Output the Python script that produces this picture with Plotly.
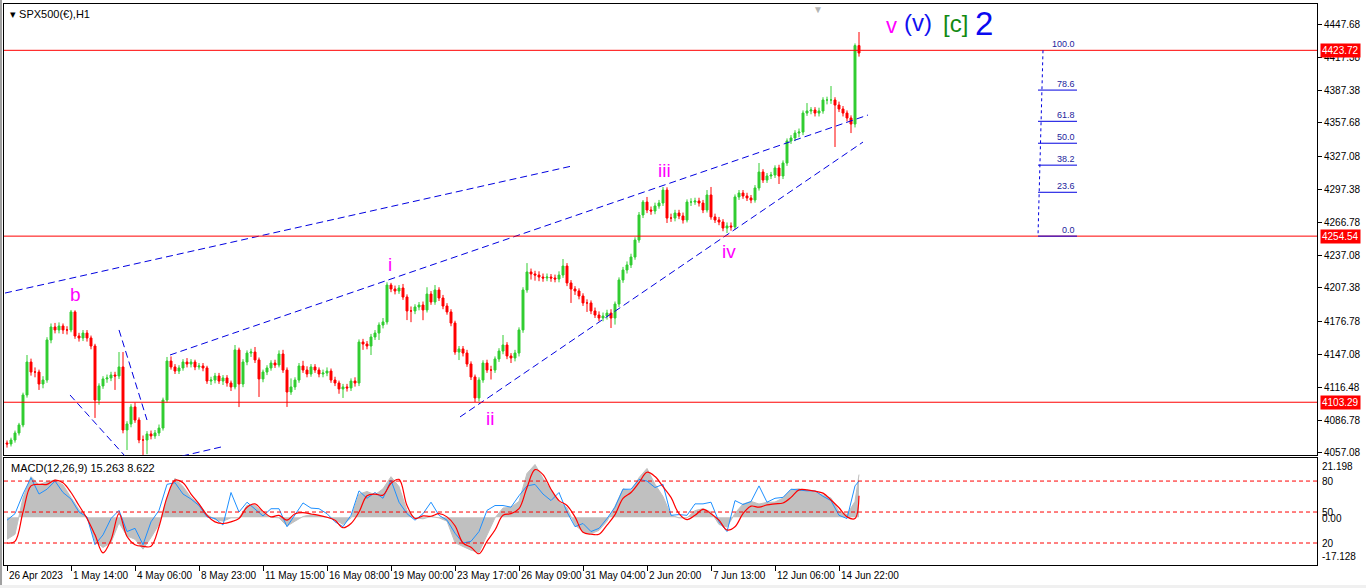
import plotly.graph_objects as go

# ---------------- price data (H1 chart, sampled as 4-bar candles) ----------------
first_open = 4066.2
closes = [
    4065.3, 4068.9, 4075.3, 4082.6, 4109.9, 4139.9, 4130.8, 4130.8, 4119.9, 4123.5,
    4160.0, 4171.8, 4169.1, 4172.7, 4169.1, 4169.1, 4185.5, 4163.6, 4161.8, 4166.3,
    4161.8, 4154.5, 4105.3, 4118.1, 4124.5, 4125.4, 4128.1, 4127.2, 4135.4, 4078.0,
    4083.5, 4099.0, 4087.1, 4068.9, 4068.9, 4074.4, 4072.6, 4075.3, 4079.8, 4105.3,
    4140.8, 4135.4, 4131.7, 4134.5, 4139.9, 4138.1, 4139.9, 4135.4, 4136.3, 4134.5,
    4122.6, 4123.5, 4127.2, 4122.6, 4125.4, 4120.8, 4117.2, 4150.9, 4119.9, 4139.9,
    4148.1, 4149.0, 4141.8, 4124.5, 4130.8, 4134.5, 4139.0, 4137.2, 4147.2, 4132.6,
    4112.6, 4117.2, 4123.5, 4136.3, 4132.6, 4129.0, 4135.4, 4132.6, 4129.0, 4129.9,
    4131.7, 4123.5, 4120.8, 4115.4, 4117.2, 4116.3, 4122.6, 4120.8, 4158.1, 4156.3,
    4154.5, 4162.7, 4166.3, 4173.6, 4176.4, 4210.0, 4206.4, 4204.6, 4207.3, 4199.1,
    4186.4, 4186.4, 4190.0, 4191.8, 4187.3, 4201.8, 4194.6, 4205.5, 4198.2, 4190.9,
    4185.5, 4175.4, 4149.0, 4151.8, 4148.1, 4138.1, 4126.3, 4107.2, 4123.5, 4139.0,
    4132.6, 4132.6, 4142.7, 4149.9, 4155.4, 4145.4, 4143.6, 4148.1, 4169.1, 4205.5,
    4221.9, 4220.1, 4219.1, 4217.3, 4216.4, 4217.3, 4216.4, 4215.5, 4219.1, 4227.3,
    4211.9, 4206.4, 4204.6, 4200.0, 4193.7, 4193.7, 4186.4, 4182.7, 4180.0, 4181.8,
    4184.5, 4180.0, 4192.7, 4214.6, 4223.7, 4228.3, 4235.5, 4251.0, 4273.8, 4285.6,
    4278.3, 4277.4, 4282.0, 4284.7, 4296.5, 4271.0, 4271.0, 4275.6, 4272.9, 4269.2,
    4285.6, 4285.6, 4286.5, 4284.7, 4278.3, 4292.0, 4272.0, 4269.2, 4267.4, 4261.9,
    4263.8, 4262.9, 4290.2, 4293.8, 4291.1, 4289.3, 4287.4, 4298.4, 4312.9, 4305.6,
    4309.3, 4310.2, 4316.6, 4309.3, 4321.1, 4341.2, 4343.9, 4348.4, 4349.3, 4366.6,
    4368.5, 4369.4, 4366.6, 4368.5, 4378.5, 4378.5, 4378.5, 4373.9, 4370.3, 4366.6,
    4362.1, 4356.6, 4428.0, 4421.3,
]
highs = [
    4068.5, 4071.0, 4077.5, 4084.5, 4112.0, 4146.3, 4143.0, 4135.0, 4133.0, 4127.0,
    4162.5, 4175.0, 4175.5, 4176.0, 4175.0, 4172.5, 4187.3, 4187.0, 4166.5, 4169.0,
    4169.0, 4164.0, 4156.5, 4120.5, 4127.0, 4128.5, 4131.0, 4131.0, 4149.0, 4149.0,
    4086.0, 4101.5, 4103.0, 4089.5, 4073.0, 4077.0, 4077.5, 4078.0, 4083.0, 4107.5,
    4144.5, 4145.0, 4138.0, 4137.0, 4142.5, 4143.5, 4142.5, 4142.0, 4139.0, 4139.0,
    4136.5, 4126.5, 4130.0, 4130.0, 4128.0, 4128.0, 4123.0, 4155.4, 4153.0, 4142.5,
    4150.5, 4152.0, 4153.6, 4144.0, 4133.0, 4137.0, 4141.5, 4142.0, 4150.5, 4151.0,
    4135.0, 4125.0, 4126.0, 4139.0, 4141.0, 4136.0, 4138.0, 4138.0, 4135.0, 4133.0,
    4135.0, 4134.0, 4126.5, 4123.0, 4120.0, 4120.0, 4125.0, 4126.0, 4160.5, 4161.0,
    4159.0, 4165.5, 4169.0, 4176.0, 4180.0, 4212.5, 4212.0, 4209.5, 4210.0, 4211.0,
    4201.5, 4190.5, 4192.5, 4194.5, 4195.0, 4208.0, 4204.5, 4210.0, 4208.0, 4201.0,
    4193.5, 4188.0, 4177.5, 4154.5, 4154.5, 4151.0, 4140.5, 4128.5, 4126.0, 4141.5,
    4142.0, 4136.5, 4145.0, 4152.5, 4164.5, 4158.0, 4148.0, 4151.0, 4171.5, 4208.0,
    4230.0, 4225.0, 4223.0, 4222.5, 4220.5, 4220.5, 4220.0, 4219.5, 4222.5, 4233.7,
    4230.0, 4214.5, 4209.0, 4207.0, 4202.5, 4197.0, 4196.0, 4189.5, 4186.0, 4185.0,
    4187.5, 4188.0, 4195.0, 4217.0, 4226.5, 4231.5, 4238.5, 4253.5, 4276.5, 4287.4,
    4290.2, 4281.5, 4285.0, 4287.5, 4299.3, 4299.0, 4275.0, 4278.5, 4278.5, 4276.0,
    4288.0, 4289.0, 4289.5, 4289.5, 4287.5, 4296.5, 4299.3, 4275.0, 4272.0, 4270.0,
    4267.0, 4267.0, 4292.5, 4296.5, 4296.5, 4294.0, 4292.0, 4301.0, 4321.1, 4315.5,
    4312.0, 4313.0, 4319.0, 4319.5, 4323.5, 4343.5, 4346.5, 4351.0, 4352.5, 4369.0,
    4375.7, 4372.0, 4372.0, 4371.5, 4381.0, 4381.5, 4391.2, 4381.0, 4377.0, 4373.0,
    4369.0, 4364.5, 4430.0, 4440.4,
]
lows = [
    4062.0, 4063.0, 4066.5, 4073.0, 4080.5, 4107.5, 4127.5, 4126.0, 4114.5, 4116.0,
    4121.0, 4157.0, 4166.0, 4166.0, 4165.5, 4165.0, 4167.0, 4161.0, 4158.5, 4159.0,
    4158.5, 4151.5, 4089.0, 4101.0, 4115.5, 4121.0, 4122.5, 4114.5, 4124.5, 4075.0,
    4059.8, 4080.5, 4084.5, 4066.0, 4055.3, 4056.0, 4069.5, 4070.0, 4072.5, 4077.5,
    4103.0, 4133.0, 4129.0, 4129.0, 4132.0, 4135.0, 4135.0, 4132.5, 4133.0, 4131.5,
    4120.0, 4119.0, 4120.5, 4120.0, 4119.0, 4117.5, 4113.5, 4115.0, 4098.9, 4117.0,
    4137.0, 4144.5, 4139.0, 4108.1, 4121.5, 4128.0, 4132.0, 4134.5, 4135.0, 4130.0,
    4099.0, 4110.0, 4114.5, 4121.0, 4130.0, 4126.0, 4126.5, 4130.0, 4126.0, 4126.0,
    4127.0, 4121.0, 4118.0, 4111.0, 4107.2, 4113.0, 4113.5, 4117.5, 4118.0, 4151.0,
    4151.5, 4146.3, 4160.0, 4160.0, 4170.5, 4174.0, 4203.5, 4201.5, 4202.0, 4196.5,
    4178.1, 4176.2, 4183.5, 4187.0, 4178.0, 4185.0, 4192.0, 4192.0, 4195.5, 4188.0,
    4183.0, 4172.5, 4146.5, 4141.7, 4145.0, 4135.5, 4123.5, 4103.5, 4104.0, 4121.0,
    4130.0, 4124.0, 4130.0, 4140.0, 4147.0, 4142.5, 4139.0, 4140.5, 4145.0, 4166.5,
    4203.0, 4215.0, 4214.0, 4213.5, 4213.0, 4213.5, 4213.0, 4212.5, 4212.5, 4216.5,
    4209.0, 4193.7, 4201.0, 4197.0, 4191.0, 4185.5, 4183.5, 4180.0, 4177.0, 4177.0,
    4178.5, 4170.9, 4174.0, 4190.0, 4212.0, 4220.5, 4225.5, 4233.0, 4248.5, 4271.0,
    4275.5, 4274.0, 4274.5, 4279.5, 4282.0, 4266.5, 4267.5, 4268.0, 4270.0, 4266.0,
    4267.0, 4282.0, 4283.0, 4281.5, 4275.5, 4276.0, 4269.5, 4266.5, 4264.5, 4259.0,
    4257.4, 4259.5, 4260.5, 4287.5, 4288.5, 4286.5, 4284.5, 4285.0, 4296.0, 4303.0,
    4303.0, 4306.5, 4307.5, 4302.0, 4306.5, 4318.5, 4338.5, 4341.0, 4344.5, 4346.5,
    4364.0, 4365.5, 4363.5, 4363.5, 4366.0, 4374.5, 4375.0, 4335.7, 4367.5, 4363.5,
    4359.0, 4348.4, 4353.5, 4418.0,
]
opens = [first_open] + closes[:-1]
bars = list(range(len(closes)))

# ---------------- MACD panel data (every 2nd bar + last) ----------------
macd_x = list(range(0, 213, 2)) + [213]
macd_main = [
    -7.91, -6.14, 6.84, 14.51, 11.56, 12.74, 13.33, 11.56, 7.08, 2.71,
    0.0, -8.50, -10.86, -9.09, -2.01, -6.73, -7.91, -11.45, -7.32, -2.60,
    6.84, 13.92, 10.97, 7.08, 4.72, 0.94, -0.83, -1.42, -0.24, -0.24,
    4.25, 4.25, 1.53, 0.0, -0.24, -3.19, -1.42, 0.24, 0.94, 0.47,
    0.0, -0.83, -2.60, -0.24, 8.26, 9.20, 8.02, 10.15, 14.51, 10.97,
    2.36, -0.24, -0.59, 0.24, -0.24, -1.42, -9.09, -10.50, -11.80, -12.63,
    -6.73, -0.24, 3.30, 3.54, 5.66, 15.69, 18.88, 13.92, 9.79, 5.43,
    3.30, -2.83, -5.19, -5.90, -4.72, -1.42, 3.89, 10.15, 9.44, 14.16,
    17.46, 11.80, 7.43, 0.71, -0.24, -0.24, 2.36, 3.07, 1.89, -2.60,
    -3.54, 1.42, 4.72, 5.66, 4.72, 5.31, 5.43, 6.84, 9.91, 10.15,
    9.68, 8.97, 7.91, 6.84, 2.01, 0.94, 5.66, 15.26,
]
osc_blue = [
    42.1, 48.4, 67.4, 83.2, 67.4, 72.1, 80.0, 68.9, 62.6, 50.0,
    45.3, 18.4, 27.9, 43.7, 51.6, 31.1, 34.2, 18.4, 40.5, 51.6,
    76.8, 78.4, 67.4, 62.6, 56.3, 45.3, 43.7, 37.4, 68.9, 50.0,
    59.5, 53.2, 46.2, 53.2, 53.2, 35.8, 46.8, 58.8, 53.8, 53.2,
    48.4, 40.5, 35.8, 46.8, 70.5, 63.3, 68.9, 63.3, 80.9, 59.5,
    48.4, 42.1, 48.4, 59.5, 46.8, 42.1, 29.5, 20.0, 21.6, 31.1,
    51.6, 56.3, 56.3, 54.7, 65.8, 75.3, 76.8, 67.4, 61.1, 68.9,
    50.0, 35.8, 38.9, 31.1, 34.2, 43.7, 54.7, 72.1, 72.1, 81.6,
    80.0, 73.7, 76.8, 46.8, 47.5, 46.8, 57.9, 57.9, 59.5, 40.5,
    31.1, 61.1, 57.3, 60.1, 75.3, 59.5, 63.3, 64.2, 72.1, 71.2,
    70.5, 70.5, 65.2, 61.1, 46.8, 43.7, 75.3, 80.0,
]
osc_red = [
    20.0, 21.6, 50.0, 75.3, 76.8, 76.8, 80.9, 78.4, 68.9, 56.3,
    43.7, 27.9, 10.5, 23.2, 48.4, 26.3, 18.4, 16.8, 16.8, 35.8,
    64.2, 80.9, 78.4, 67.4, 57.9, 46.8, 40.5, 38.9, 40.5, 43.7,
    54.7, 57.9, 50.6, 45.3, 46.8, 42.1, 48.4, 49.4, 48.1, 46.8,
    44.9, 42.1, 34.8, 38.9, 50.0, 65.8, 67.4, 66.4, 77.8, 81.6,
    56.3, 43.7, 46.2, 45.9, 48.4, 45.3, 36.7, 20.0, 15.9, 9.6,
    21.6, 32.6, 46.8, 48.4, 53.2, 73.7, 91.1, 86.3, 72.1, 61.1,
    56.3, 45.3, 30.4, 28.5, 28.5, 37.4, 47.5, 63.3, 68.9, 78.4,
    88.5, 84.4, 74.6, 64.2, 48.4, 42.7, 46.8, 52.5, 48.4, 42.1,
    32.6, 35.8, 48.4, 55.7, 54.7, 56.9, 57.9, 58.8, 64.2, 71.5,
    71.5, 70.2, 68.3, 61.7, 54.1, 45.3, 43.7, 65.8,
]
osc_levels = [80, 50, 20]
macd_scale = [21.198, 0.0, -17.128]

# ---------------- axes / annotations data ----------------
price_ticks = [4447.68, 4417.38, 4387.38, 4357.68, 4327.08, 4297.38, 4266.78,
               4237.08, 4207.38, 4176.78, 4147.08, 4116.48, 4086.78, 4057.08]
time_ticks = [0, 16, 32, 48, 64, 80, 96, 112, 128, 144, 160, 176, 192, 208]
time_labels = ["26 Apr 2023", "1 May 14:00", "4 May 06:00", "8 May 23:00",
               "11 May 15:00", "16 May 08:00", "19 May 00:00", "23 May 17:00",
               "26 May 09:00", "31 May 04:00", "2 Jun 20:00", "7 Jun 13:00",
               "12 Jun 06:00", "14 Jun 22:00"]
h_levels = [4423.72, 4254.54, 4103.29]
fib_low, fib_high = 4254.54, 4423.72
fib_levels = [0.0, 23.6, 38.2, 50.0, 61.8, 78.6, 100.0]
fib_x = [257.75, 267.5]          # bar positions of the fib tool
fib_stem_x = [259.0, 257.75]
trend_lines = [
    (-0.5, 4202.7, 141.25, 4318.4),
    (40.75, 4146.3, 215.25, 4364.8),
    (113.25, 4089.9, 214.0, 4340.2),
    (15.75, 4109.9, 29.5, 4054.3),
    (28.0, 4169.1, 35.0, 4087.1),
    (43.75, 4054.3, 53.5, 4062.5),
]
wave_labels = [("b", 17.0, 4201.8), ("i", 95.75, 4228.3), ("ii", 120.75, 4088.9),
               ("iii", 164.25, 4314.7), ("iv", 180.5, 4241.0)]
top_labels = [("v", 221.0, 4445.9, "#FF00FF", 22),
              ("(v)", 227.75, 4449.5, "#1010F0", 24),
              ("[c]", 237.0, 4448.6, "#128A12", 24),
              ("2", 244.25, 4448.6, "#0A0AF0", 33)]

X_RANGE = [-0.75, 327.5]
Y_RANGE = [4054.8, 4465.9]
MACD_RANGE = [-17.128, 21.198]
OSC_RANGE = [-1.3, 102.3]
FONT = "Liberation Sans"

fig = go.Figure()

fig.add_trace(go.Candlestick(
    x=bars, open=opens, high=highs, low=lows, close=closes,
    increasing=dict(line=dict(color="#32CD32", width=1), fillcolor="#32CD32"),
    decreasing=dict(line=dict(color="#FF0000", width=1), fillcolor="#FF0000"),
    xaxis="x", yaxis="y", showlegend=False, hoverinfo="skip",
))

fig.add_trace(go.Scatter(
    x=macd_x, y=macd_main, mode="lines", fill="tozeroy", fillcolor="#C0C0C0",
    line=dict(color="#C0C0C0", width=1),
    xaxis="x2", yaxis="y2", showlegend=False, hoverinfo="skip",
))
fig.add_trace(go.Scatter(
    x=macd_x, y=osc_blue, mode="lines", line=dict(color="#1E90FF", width=1),
    xaxis="x2", yaxis="y3", showlegend=False, hoverinfo="skip",
))
fig.add_trace(go.Scatter(
    x=macd_x, y=osc_red, mode="lines", line=dict(color="#FF0000", width=1.2, shape="spline"),
    xaxis="x2", yaxis="y3", showlegend=False, hoverinfo="skip",
))

shapes = []
annotations = []

# window frame details
shapes.append(dict(type="rect", xref="paper", yref="paper", x0=-0.0031, x1=-0.0015,
                   y0=-0.041, y1=1.008, fillcolor="#A0A0A0", line=dict(width=0), layer="below"))
shapes.append(dict(type="rect", xref="paper", yref="paper", x0=-0.004, x1=1.04,
                   y0=-0.042, y1=-0.0357, fillcolor="#F0F0F0", line=dict(width=0), layer="below"))

# trend lines
for x0, y0, x1, y1 in trend_lines:
    shapes.append(dict(type="line", xref="x", yref="y", x0=x0, y0=y0, x1=x1, y1=y1,
                       line=dict(color="#0000E0", width=1, dash="7px,4px")))

# horizontal red levels + price boxes
for lv in h_levels:
    shapes.append(dict(type="line", xref="x domain", yref="y", x0=0, x1=1, y0=lv, y1=lv,
                       line=dict(color="#FF0000", width=1)))

# fibonacci tool
for lv in fib_levels:
    price = fib_low + (fib_high - fib_low) * lv / 100.0
    if lv < 100:
        shapes.append(dict(type="line", xref="x", yref="y", x0=fib_x[0], x1=fib_x[1],
                           y0=price, y1=price, line=dict(color="#0000E0", width=1)))
    annotations.append(dict(xref="x", yref="y", x=fib_x[1], y=price, text=f"{lv:.1f}",
                            xanchor="right", yanchor="bottom", showarrow=False, yshift=-1,
                            font=dict(family=FONT, size=9, color="#23239C")))
shapes.append(dict(type="line", xref="x", yref="y", x0=fib_stem_x[0], y0=fib_high,
                   x1=fib_stem_x[1], y1=fib_low,
                   line=dict(color="#0000E0", width=1, dash="3px,3px")))

for lv in h_levels:
    annotations.append(dict(xref="paper", yref="y", x=1, y=lv, text=f"{lv:.2f}",
                            xanchor="left", yanchor="middle", xshift=3, showarrow=False,
                            bgcolor="#FF0000", borderpad=1,
                            font=dict(family=FONT, size=10, color="white")))

# MACD panel dashed levels
for lv in osc_levels:
    shapes.append(dict(type="line", xref="x2 domain", yref="y3", x0=0, x1=1, y0=lv, y1=lv,
                       line=dict(color="#FF0000", width=1, dash="4px,3px")))
    annotations.append(dict(xref="paper", yref="y3", x=1, y=lv, text=str(lv),
                            xanchor="left", yanchor="middle", xshift=3, showarrow=False,
                            font=dict(family=FONT, size=10, color="black")))
for v, anch in zip(macd_scale, ["top", "middle", "bottom"]):
    annotations.append(dict(xref="paper", yref="y2", x=1, y=v,
                            text=(f"{v:.3f}" if v != 0 else "0.00"),
                            xanchor="left", yanchor=anch, xshift=3, showarrow=False,
                            yshift=(-1 if anch == "top" else (1 if anch == "bottom" else -1)),
                            font=dict(family=FONT, size=10, color="black")))

# wave labels
for txt, xx, yy in wave_labels:
    annotations.append(dict(xref="x", yref="y", x=xx, y=yy, text=txt, showarrow=False,
                            font=dict(family=FONT, size=19, color="#FF00FF")))
for txt, xx, yy, col, sz in top_labels:
    annotations.append(dict(xref="x", yref="y", x=xx, y=yy, text=txt, showarrow=False,
                            font=dict(family=FONT, size=sz, color=col)))

# time labels
for t, lab in zip(time_ticks, time_labels):
    annotations.append(dict(xref="x2", yref="paper", x=t, y=0, text=lab, showarrow=False,
                            xanchor="left", yanchor="top", xshift=0, yshift=-3,
                            font=dict(family=FONT, size=10, color="black")))

# titles
annotations.append(dict(xref="paper", yref="paper", x=0, y=1, text="▾ SPX500(€),H1",
                        xanchor="left", yanchor="top", xshift=4, yshift=-2, showarrow=False,
                        font=dict(family=FONT, size=11, color="black")))
annotations.append(dict(xref="paper", yref="paper", x=0, y=0.1907,
                        text="MACD(12,26,9) 15.263 8.622",
                        xanchor="left", yanchor="top", xshift=5, yshift=-2, showarrow=False,
                        font=dict(family=FONT, size=11, color="black")))
annotations.append(dict(xref="x", yref="paper", x=202.75, y=1, text="▼",
                        xanchor="center", yanchor="top", yshift=2, showarrow=False,
                        font=dict(family=FONT, size=10, color="#B4B4B4")))

axis_common = dict(showgrid=False, zeroline=False, showline=True, mirror=True,
                   linecolor="black", linewidth=1)

fig.update_layout(
    width=1366, height=588,
    margin=dict(l=4, r=49, t=4, b=23),
    paper_bgcolor="white", plot_bgcolor="white",
    font=dict(family=FONT, size=10, color="black"),
    showlegend=False, hovermode=False,
    xaxis=dict(domain=[0, 1], anchor="y", range=X_RANGE, showticklabels=False,
               ticks="", rangeslider=dict(visible=False), **axis_common),
    yaxis=dict(domain=[0.1952, 1], anchor="x", side="right", range=Y_RANGE,
               tickvals=price_ticks, ticktext=[f"{p:.2f}" for p in price_ticks],
               ticks="outside", ticklen=4, tickcolor="black",
               tickfont=dict(family=FONT, size=10, color="black"), **axis_common),
    xaxis2=dict(domain=[0, 1], anchor="y2", range=X_RANGE, tickvals=time_ticks,
                showticklabels=False, ticks="outside", ticklen=5, tickcolor="black",
                **axis_common),
    yaxis2=dict(domain=[0, 0.1907], anchor="x2", side="right", range=MACD_RANGE,
                showticklabels=False, ticks="", **axis_common),
    yaxis3=dict(overlaying="y2", anchor="x2", side="right", range=OSC_RANGE,
                visible=False, showgrid=False, zeroline=False),
    shapes=shapes, annotations=annotations,
)

fig.write_html("out.html", config={"displayModeBar": False},
               post_script="document.body.style.margin='0';document.body.style.overflow='hidden';")
